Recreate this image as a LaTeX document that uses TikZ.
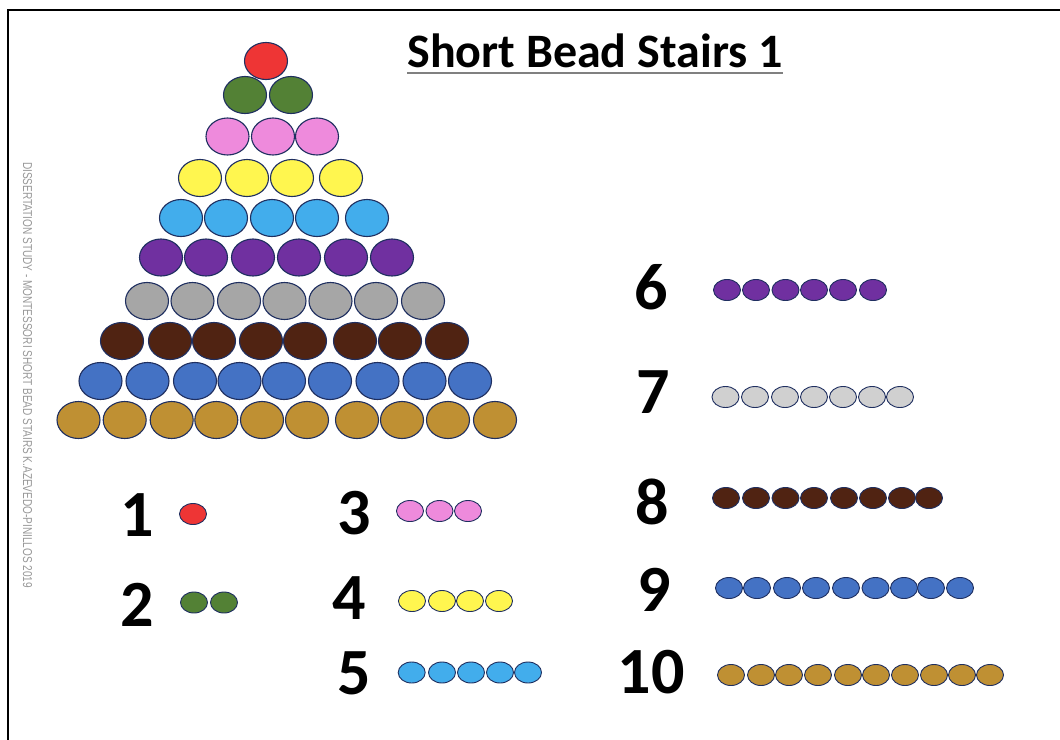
\documentclass[tikz,border=0pt]{standalone}
\usepackage{fontspec}
\setmainfont{Carlito}
\newfontfamily\sidefont{Liberation Sans}
\usetikzlibrary{shapes.geometric,calc}
\definecolor{outl}{HTML}{1F2F60}
\definecolor{cred}{HTML}{EE3535}
\definecolor{cgreen}{HTML}{538135}
\definecolor{cpink}{HTML}{EE8ADC}
\definecolor{cyellow}{HTML}{FFF64F}
\definecolor{clblue}{HTML}{42ADEC}
\definecolor{cpurple}{HTML}{7030A0}
\definecolor{cgray}{HTML}{A6A6A6}
\definecolor{clgray}{HTML}{D0D0D0}
\definecolor{cbrown}{HTML}{502312}
\definecolor{cblue}{HTML}{4472C4}
\definecolor{cgold}{HTML}{BF9033}
\definecolor{sidegray}{HTML}{989898}
\definecolor{ulgray}{HTML}{808080}
\tikzset{
  bigbead/.style={ellipse, draw=outl, line width=1.1pt, minimum width=43pt, minimum height=37pt, inner sep=0pt},
  smallbead/.style={ellipse, draw=outl, line width=0.9pt, minimum width=27pt, minimum height=21pt, inner sep=0pt},
  numlabel/.style={inner sep=0pt, font=\fontsize{66}{70}\selectfont\bfseries},
}
\begin{document}
\begin{tikzpicture}[x=1pt,y=-1pt]
\useasboundingbox (0,0) rectangle (1060,739);
\fill[white] (0,0) rectangle (1060,739);
% border
\draw[line width=2pt] (8,745) -- (8,10) -- (1066,10);
% title
\node[anchor=base, inner sep=0pt, font=\fontsize{48}{52}\selectfont\bfseries] (title) at (595,67) {Short Bead Stairs 1};
\coordinate (ulA) at ($(title.base west)+(0,6)$);
\coordinate (ulB) at ($(title.base east)+(0,6)$);
\draw[ulgray, line width=2.5pt] (ulA) -- (ulB);
% side text
\node[rotate=-90, inner sep=0pt, text=sidegray] (side) at (27.5,375) {\resizebox{426pt}{9pt}{\sidefont DISSERTATION STUDY - MONTESSORI SHORT BEAD STAIRS K.AZEVEDO-PINILLOS 2019}};
% triangle
\foreach \x [count=\i] in {266} \node[bigbead, fill=cred] (t1-\i) at (\x,61) {};
\foreach \x [count=\i] in {245,291} \node[bigbead, fill=cgreen] (t2-\i) at (\x,95) {};
\foreach \x [count=\i] in {227.5,273,317} \node[bigbead, fill=cpink] (t3-\i) at (\x,136.5) {};
\foreach \x [count=\i] in {200,247,292,341} \node[bigbead, fill=cyellow] (t4-\i) at (\x,178) {};
\foreach \x [count=\i] in {181,226,272,317,367} \node[bigbead, fill=clblue] (t5-\i) at (\x,218) {};
\foreach \x [count=\i] in {161,206,253,299,346,392} \node[bigbead, fill=cpurple] (t6-\i) at (\x,257.5) {};
\foreach \x [count=\i] in {147,192.5,239,284.5,330.5,376,423} \node[bigbead, fill=cgray] (t7-\i) at (\x,301) {};
\foreach \x [count=\i] in {122,170,214,261,305,355,400,447} \node[bigbead, fill=cbrown] (t8-\i) at (\x,341) {};
\foreach \x [count=\i] in {100.5,147.5,195,239.5,284,330,377.5,424.5,470} \node[bigbead, fill=cblue] (t9-\i) at (\x,381) {};
\foreach \x [count=\i] in {78.5,124.7,171.7,216.3,262,307,357,402,448,495} \node[bigbead, fill=cgold] (t10-\i) at (\x,420) {};
% number labels
\node[numlabel] (n1) at (137,515) {1};
\node[numlabel] (n2) at (137,605) {2};
\node[numlabel] (n3) at (354,513) {3};
\node[numlabel] (n4) at (349,598) {4};
\node[numlabel] (n5) at (354.5,673) {5};
\node[numlabel] (n6) at (651,287) {6};
\node[numlabel] (n7) at (653,392) {7};
\node[numlabel] (n8) at (652.5,502) {8};
\node[numlabel] (n9) at (654,590) {9};
\node[numlabel] (n10) at (651,672) {10};
% small bead bars
\foreach \x [count=\i] in {193} \node[smallbead, fill=cred] (s1-\i) at (\x,514) {};
\foreach \x [count=\i] in {194,224} \node[smallbead, fill=cgreen] (s2-\i) at (\x,602.5) {};
\foreach \x [count=\i] in {410,439.5,468} \node[smallbead, fill=cpink] (s3-\i) at (\x,511) {};
\foreach \x [count=\i] in {412,442,470,499} \node[smallbead, fill=cyellow] (s4-\i) at (\x,601) {};
\foreach \x [count=\i] in {411.7,442,471,500,528} \node[smallbead, fill=clblue] (s5-\i) at (\x,672.5) {};
\foreach \x [count=\i] in {727,756,785.5,814,843,873} \node[smallbead, fill=cpurple] (s6-\i) at (\x,290) {};
\foreach \x [count=\i] in {725.5,755,785,814,843,872,900} \node[smallbead, fill=clgray] (s7-\i) at (\x,397) {};
\foreach \x [count=\i] in {726,756,785.5,814,844,873,902,929} \node[smallbead, fill=cbrown] (s8-\i) at (\x,498) {};
\foreach \x [count=\i] in {729,757,787,816,846,875.5,904,931,960} \node[smallbead, fill=cblue] (s9-\i) at (\x,588) {};
\foreach \x [count=\i] in {731,761,789,818,848,876,905,934,962,990} \node[smallbead, fill=cgold] (s10-\i) at (\x,675) {};
\end{tikzpicture}
\end{document}
